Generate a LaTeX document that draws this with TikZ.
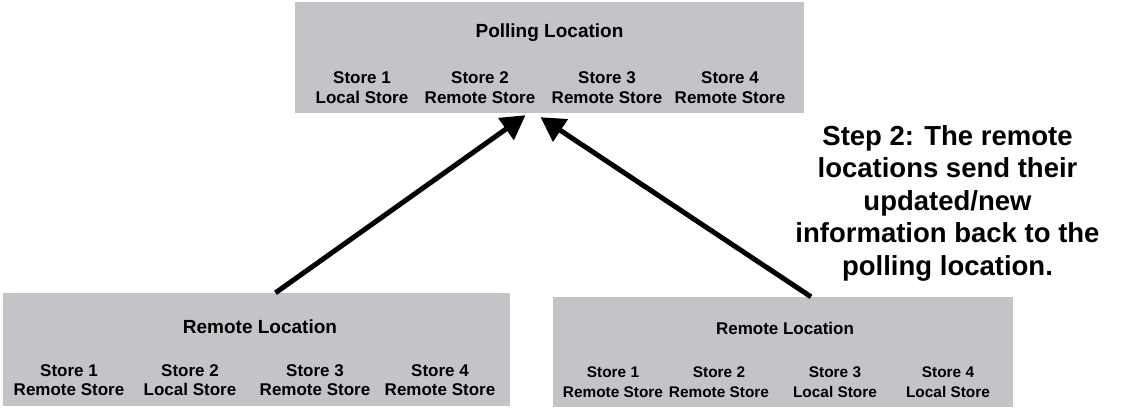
\documentclass[tikz,border=0pt]{standalone}
\usepackage{fontspec}
\setmainfont{Liberation Sans}
\usetikzlibrary{arrows.meta}
\definecolor{boxgray}{RGB}{196,195,199}
\begin{document}
\begin{tikzpicture}[x=1pt,y=1pt,
  box/.style={fill=boxgray,draw=none,inner sep=0pt},
  title/.style={font=\bfseries\fontsize{19}{22}\selectfont},
  titlesm/.style={font=\bfseries\fontsize{17}{20}\selectfont},
  store/.style={font=\bfseries\fontsize{17}{19.5}\selectfont,align=center,inner sep=0pt},
  storesm/.style={font=\bfseries\fontsize{15.4}{19.5}\selectfont,align=center,inner sep=0pt},
  big/.style={font=\bfseries\fontsize{27.5}{32.5}\selectfont,align=center,inner sep=0pt},
  arr/.style={line width=5pt,-{Triangle[length=24pt,width=26pt]}}]
\useasboundingbox (0,0) rectangle (1127,-408);
% boxes
\node[box,minimum width=509pt,minimum height=111pt] (top) at (549.5,-57.5) {};
\node[box,minimum width=507pt,minimum height=113pt] (botL) at (256.5,-349.5) {};
\node[box,minimum width=460pt,minimum height=110pt] (botR) at (783,-352) {};
% top box text
\node[title] (tt) at (549.5,-33) {Polling Location};
\node[store] (t1) at (362,-87.5) {Store 1\\Local Store};
\node[store] (t2) at (480,-87.5) {Store 2\\Remote Store};
\node[store] (t3) at (607,-87.5) {Store 3\\Remote Store};
\node[store] (t4) at (730,-87.5) {Store 4\\Remote Store};
% bottom left text
\node[title] (lt) at (260,-327) {Remote Location};
\node[store] (l1) at (69,-380) {Store 1\\Remote Store};
\node[store] (l2) at (190,-380) {Store 2\\Local Store};
\node[store] (l3) at (315,-380) {Store 3\\Remote Store};
\node[store] (l4) at (440,-380) {Store 4\\Remote Store};
% bottom right text
\node[titlesm] (rt) at (785,-328) {Remote Location};
\node[storesm] (r1) at (613,-382) {Store 1\\Remote Store};
\node[storesm] (r2) at (719,-382) {Store 2\\Remote Store};
\node[storesm] (r3) at (835,-382) {Store 3\\Local Store};
\node[storesm] (r4) at (948,-382) {Store 4\\Local Store};
% note
\node[big] (note) at (947.5,-203) {Step 2: The remote\\locations send their\\updated/new\\information back to the\\polling location.};
% arrow anchors
\coordinate (lTail) at ([xshift=19pt]botL.north);
\coordinate (lTip) at ([xshift=-24pt,yshift=-2pt]top.south);
\coordinate (rTail) at ([xshift=28pt]botR.north);
\coordinate (rTip) at ([xshift=-9pt,yshift=-4pt]top.south);
\draw[arr] (lTail) -- (lTip);
\draw[arr] (rTail) -- (rTip);
\end{tikzpicture}
\end{document}
